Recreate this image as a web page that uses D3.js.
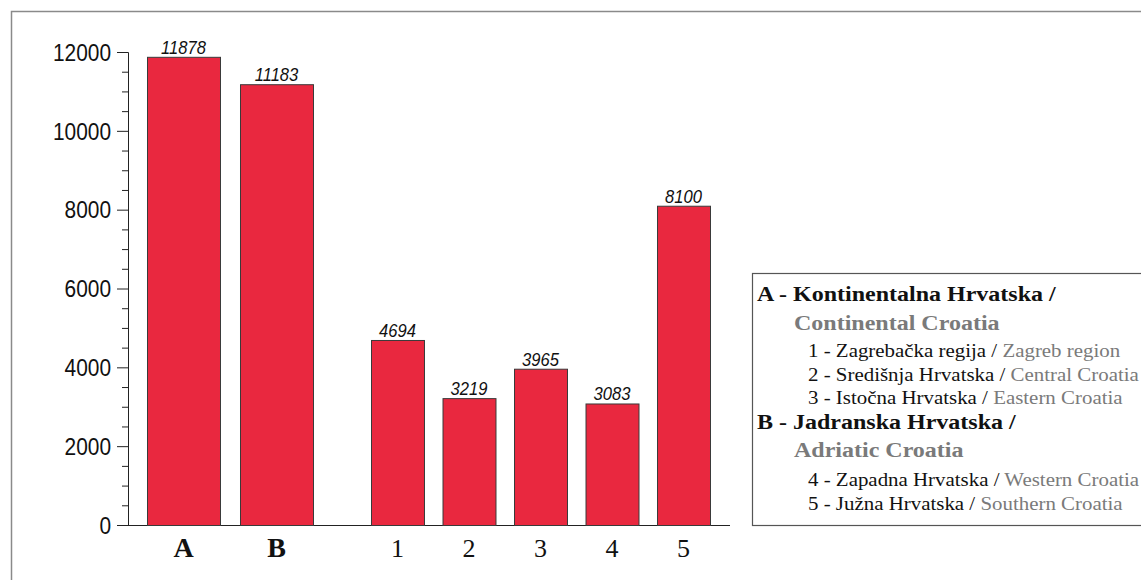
<!DOCTYPE html>
<html>
<head>
<meta charset="utf-8">
<script src="https://cdn.jsdelivr.net/npm/d3@7"></script>
<style>
  html, body { margin: 0; padding: 0; background: #fff; }
  svg { display: block; }
</style>
</head>
<body>
<svg id="chart" width="1141" height="580"></svg>
<script>
// ---- data ----
const groupCats = ["A", "B"];
const groupValues = [11878, 11183];
const regionCats = ["1", "2", "3", "4", "5"];
const regionValues = [4694, 3219, 3965, 3083, 8100];
const yTickValues = [0, 2000, 4000, 6000, 8000, 10000, 12000];
const legendLines = [
  { level: 0, main: "A - Kontinentalna Hrvatska /", en: "" },
  { level: 1, main: "", en: "Continental Croatia" },
  { level: 2, main: "1 - Zagrebačka regija / ", en: "Zagreb region" },
  { level: 2, main: "2 - Središnja Hrvatska / ", en: "Central Croatia" },
  { level: 2, main: "3 - Istočna Hrvatska / ", en: "Eastern Croatia" },
  { level: 0, main: "B - Jadranska Hrvatska /", en: "" },
  { level: 1, main: "", en: "Adriatic Croatia" },
  { level: 2, main: "4 - Zapadna Hrvatska / ", en: "Western Croatia" },
  { level: 2, main: "5 - Južna Hrvatska / ", en: "Southern Croatia" }
];

const svg = d3.select("#chart");
const barFill = "#e9283f";
const sans = "'Liberation Sans', Arial, sans-serif";
const serif = "'Liberation Serif', 'Times New Roman', serif";

// condense/stretch text horizontally
function squeeze(sel, factor) {
  sel.each(function () {
    const w = this.getComputedTextLength();
    d3.select(this).attr("textLength", w * factor).attr("lengthAdjust", "spacingAndGlyphs");
  });
}

// outer frame (open to the right and bottom)
svg.append("path")
  .attr("d", "M11.5,600 V11.5 H1160")
  .attr("fill", "none").attr("stroke", "#8a8a8a").attr("stroke-width", 1.5);

// scales
const y = d3.scaleLinear().domain([0, 12000]).range([525, 52]);
const xG = d3.scaleBand().domain(groupCats).range([147, 313]).paddingInner(0.215).paddingOuter(0);
const xR = d3.scaleBand().domain(regionCats).range([371, 710]).paddingInner(0.259).paddingOuter(0);
const axisX = 128;

// y axis
const yAxis = d3.axisLeft(y)
  .tickValues(d3.range(0, 12001, 500))
  .tickSizeOuter(0)
  .tickSize(11)
  .tickPadding(6)
  .tickFormat(d => yTickValues.includes(d) ? String(d) : "");
const gy = svg.append("g").attr("transform", `translate(${axisX},0)`).call(yAxis);
gy.selectAll(".tick line").attr("stroke", "#222")
  .attr("x2", d => yTickValues.includes(d) ? -11 : -6);
gy.select(".domain").attr("stroke", "#222");
const tickTexts = gy.selectAll(".tick text")
  .attr("font-family", sans).attr("font-size", 24).attr("fill", "#111")
  .attr("dy", "0.34em");
squeeze(tickTexts.filter(d => yTickValues.includes(d)), 0.87);

// x axis baseline
svg.append("line")
  .attr("x1", axisX).attr("x2", xR.range()[1] + 20)
  .attr("y1", y(0) + 0.5).attr("y2", y(0) + 0.5)
  .attr("stroke", "#222").attr("stroke-width", 1.2);

function drawBars(cats, vals, xs, labelFont, labelSize, labelWeight) {
  const data = cats.map((c, i) => ({ c, v: vals[i] }));
  const g = svg.append("g");
  g.selectAll("rect").data(data).enter().append("rect")
    .attr("x", d => xs(d.c) + 0.5)
    .attr("y", d => y(d.v) + 0.5)
    .attr("width", xs.bandwidth())
    .attr("height", d => y(0) - y(d.v))
    .attr("fill", barFill)
    .attr("stroke", "#3a3a3a").attr("stroke-width", 1);
  const vt = g.selectAll("text.val").data(data).enter().append("text")
    .attr("class", "val")
    .attr("x", d => xs(d.c) + xs.bandwidth() / 2)
    .attr("y", d => y(d.v) - 3)
    .attr("text-anchor", "middle")
    .attr("font-family", sans).attr("font-style", "italic")
    .attr("font-size", 18).attr("fill", "#111")
    .text(d => d.v);
  squeeze(vt, 0.92);
  g.selectAll("text.cat").data(data).enter().append("text")
    .attr("class", "cat")
    .attr("x", d => xs(d.c) + xs.bandwidth() / 2)
    .attr("y", 557)
    .attr("text-anchor", "middle")
    .attr("font-family", labelFont).attr("font-size", labelSize)
    .attr("font-weight", labelWeight).attr("fill", "#111")
    .text(d => d.c);
}
drawBars(groupCats, groupValues, xG, serif, 28, "bold");
drawBars(regionCats, regionValues, xR, serif, 26, "normal");

// legend
const lg = svg.append("g");
lg.append("rect")
  .attr("x", 752.5).attr("y", 273.5).attr("width", 460).attr("height", 252)
  .attr("fill", "#fff").attr("stroke", "#555").attr("stroke-width", 1.2);
const baselines = [301, 330, 357, 381, 404, 429, 457, 486, 510];
const indents = [757, 794, 808];
legendLines.forEach((l, i) => {
  const bold = l.level < 2;
  const t = lg.append("text")
    .attr("x", indents[l.level]).attr("y", baselines[i])
    .attr("font-family", serif)
    .attr("font-size", bold ? 20 : 19)
    .attr("font-weight", bold ? "bold" : "normal");
  if (l.main) t.append("tspan").attr("fill", "#111").text(l.main);
  if (l.en) t.append("tspan").attr("fill", "#7a7a7a").text(l.en);
  squeeze(t, bold ? 1.2 : 1.1);
});
</script>
</body>
</html>
